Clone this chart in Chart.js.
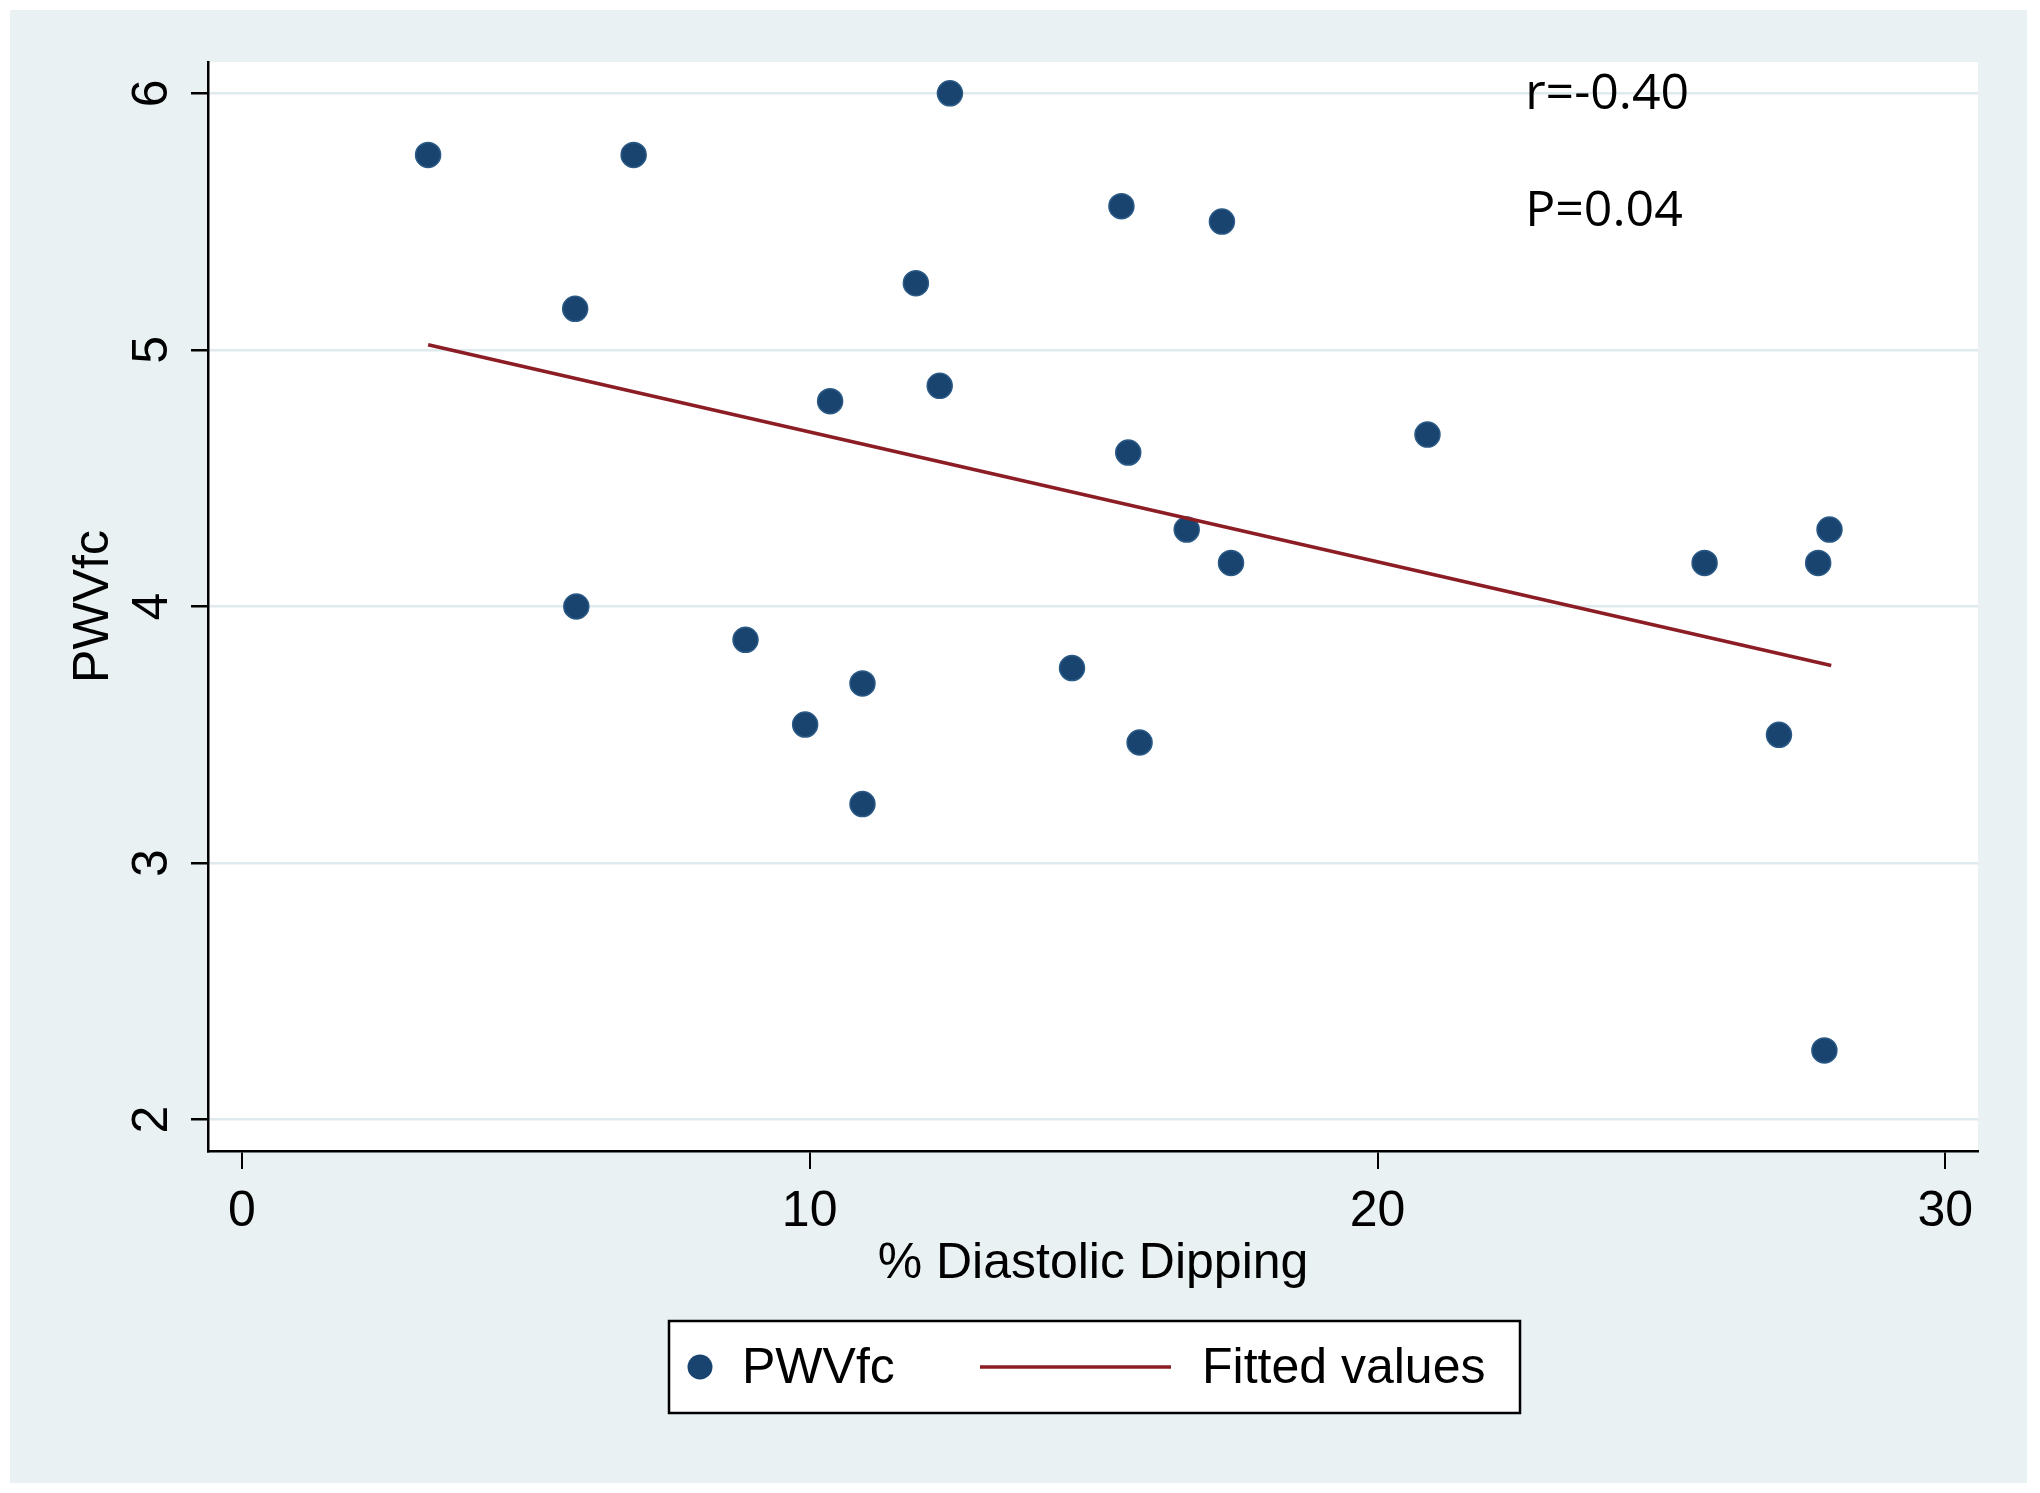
<!DOCTYPE html>
<html>
<head>
<meta charset="utf-8">
<script src="https://cdn.jsdelivr.net/npm/chart.js@4.4.1/dist/chart.umd.min.js"></script>
<style>
  html, body { margin: 0; padding: 0; background: #fff; }
  canvas { display: block; }
</style>
</head>
<body>
<canvas id="grafico" width="2040" height="1493"></canvas>
<script>
// dados
const dipping = [3.28, 6.90, 5.87, 5.89, 12.47, 11.87, 10.36, 12.29, 8.87, 9.92, 10.93, 10.93, 15.49, 17.26, 15.61, 16.64, 17.42, 14.62, 15.81, 20.88, 25.76, 27.76, 27.96, 27.07, 27.87];
const pwvfc = [5.76, 5.76, 5.16, 4.00, 6.00, 5.26, 4.80, 4.86, 3.87, 3.54, 3.70, 3.23, 5.56, 5.50, 4.60, 4.30, 4.17, 3.76, 3.47, 4.67, 4.17, 4.17, 4.30, 3.50, 2.27];
const fitX = [3.28, 27.99];
const fitY = [5.02, 3.77];
const xTicks = [0, 10, 20, 30];
const yTicks = [2, 3, 4, 5, 6];
const notas = ["r=-0.40", "P=0.04"];
const legendas = ["PWVfc", "Fitted values"];

const NAVY = "#1a4470";
const MAROON = "#8c1d24";
const FONTE = "'Liberation Sans', Arial, sans-serif";

/* fundo, anotações e legenda */
const extras = {
  id: "extras",
  beforeDraw(chart) {
    const { ctx, chartArea: a } = chart;
    ctx.save();
    ctx.fillStyle = "#ffffff";
    ctx.fillRect(0, 0, chart.width, chart.height);
    ctx.fillStyle = "#e9f1f3";
    ctx.fillRect(10, 10, 2017, 1473);
    ctx.fillStyle = "#ffffff";
    ctx.fillRect(a.left, a.top, a.right - a.left, a.bottom - a.top);
    ctx.restore();
  },
  afterDraw(chart) {
    const { ctx } = chart;
    const x = chart.scales.x, y = chart.scales.y;
    ctx.save();

    // r e P
    ctx.fillStyle = "#000";
    ctx.font = "50px 'Open Sans', sans-serif";
    ctx.textBaseline = "middle";
    ctx.textAlign = "left";
    ctx.fillText(notas[0], x.getPixelForValue(22.6), y.getPixelForValue(5.995));
    ctx.fillText(notas[1], x.getPixelForValue(22.6), y.getPixelForValue(5.54));

    // legenda
    const bx = 669, by = 1321, bw = 851, bh = 92;
    ctx.fillStyle = "#fff";
    ctx.fillRect(bx, by, bw, bh);
    ctx.strokeStyle = "#000";
    ctx.lineWidth = 2.5;
    ctx.strokeRect(bx, by, bw, bh);
    const cy = by + bh / 2;

    ctx.beginPath();
    ctx.fillStyle = NAVY;
    ctx.arc(700, cy, 12.5, 0, Math.PI * 2);
    ctx.fill();

    ctx.strokeStyle = MAROON;
    ctx.lineWidth = 3.5;
    ctx.beginPath();
    ctx.moveTo(980, cy);
    ctx.lineTo(1171, cy);
    ctx.stroke();

    ctx.fillStyle = "#000";
    ctx.font = "50px " + FONTE;
    ctx.fillText(legendas[0], 742, cy + 2);
    ctx.fillText(legendas[1], 1202, cy + 2);
    ctx.restore();
  }
};

new Chart(document.getElementById("grafico"), {
  type: "scatter",
  data: {
    datasets: [
      {
        label: legendas[0],
        data: dipping.map((v, i) => ({ x: v, y: pwvfc[i] })),
        backgroundColor: NAVY,
        borderColor: "#2b5a86",
        borderWidth: 1.5,
        pointRadius: 12.5,
        order: 2
      },
      {
        type: "line",
        label: legendas[1],
        data: fitX.map((v, i) => ({ x: v, y: fitY[i] })),
        borderColor: MAROON,
        borderWidth: 3.5,
        pointRadius: 0,
        fill: false,
        order: 1
      }
    ]
  },
  options: {
    responsive: false,
    animation: false,
    devicePixelRatio: 1,
    layout: { padding: { left: 0, top: 62, right: 62, bottom: 182 } },
    plugins: {
      legend: { display: false },
      tooltip: { enabled: false }
    },
    scales: {
      x: {
        type: "linear",
        min: -0.596,
        max: 30.575,
        afterBuildTicks: s => { s.ticks = xTicks.map(v => ({ value: v })); },
        afterFit: s => { s.height = 160; },
        border: { display: true, color: "#000", width: 2.5 },
        grid: { drawOnChartArea: false, drawTicks: true, tickLength: 18, tickColor: "#000", lineWidth: 2 },
        ticks: { color: "#000", font: { family: FONTE, size: 50 }, padding: 13, maxRotation: 0 },
        title: { display: true, text: "% Diastolic Dipping", color: "#000", font: { family: FONTE, size: 50 }, padding: { top: 0, bottom: 17 } }
      },
      y: {
        type: "linear",
        min: 1.878,
        max: 6.122,
        afterBuildTicks: s => { s.ticks = yTicks.map(v => ({ value: v })); },
        afterFit: s => { s.width = 208; },
        border: { display: true, color: "#000", width: 2.5 },
        grid: { color: "#dfeaee", lineWidth: 2.5, drawTicks: true, tickLength: 17, tickColor: "#000" },
        ticks: { color: "#000", font: { family: FONTE, size: 50 }, minRotation: 90, maxRotation: 90, crossAlign: "center", padding: 24 },
        title: { display: true, text: "PWVfc", color: "#000", font: { family: FONTE, size: 50 }, padding: { top: 64, bottom: 0 } }
      }
    }
  },
  plugins: [extras]
});
</script>
</body>
</html>
